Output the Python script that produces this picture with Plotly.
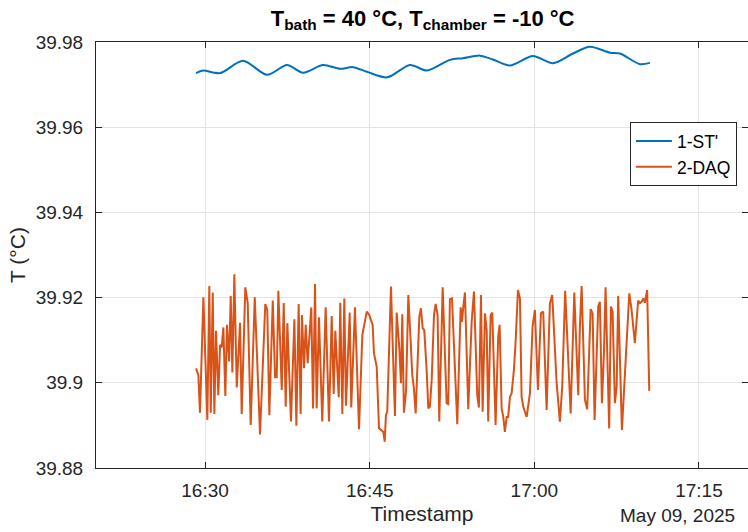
import pandas as pd
import plotly.graph_objects as go

# Minutes after 16:30 on 2025-05-09
st_min = [-0.82, -0.18, 1.37, 3.46, 5.65, 7.47, 8.93, 10.75, 12.30, 13.48, 14.75, 16.58,
          18.67, 20.22, 22.31, 23.50, 25.05, 26.23, 27.78, 29.87, 31.69, 33.52, 35.06,
          36.89, 37.80, 39.62, 40.53]
st_val = [39.9727, 39.9733, 39.9727, 39.9756, 39.9723, 39.9746, 39.9728, 39.9746, 39.9737,
          39.9741, 39.9730, 39.9717, 39.9746, 39.9733, 39.9758, 39.9762, 39.9768, 39.9759,
          39.9745, 39.9767, 39.9750, 39.9773, 39.9789, 39.9775, 39.9773, 39.9748, 39.9751]

daq_min = [-0.82, -0.61, -0.46, -0.15, 0.21, 0.39, 0.52, 0.70, 0.85, 1.00, 1.21, 1.37, 1.52,
           1.67, 1.85, 2.00, 2.19, 2.34, 2.49, 2.67, 2.89, 3.19, 3.34, 3.67, 3.89, 4.16, 4.53,
           5.01, 5.49, 5.67, 5.86, 6.17, 6.38, 6.53, 6.68, 6.99, 7.17, 7.35, 7.50, 7.83, 8.14,
           8.32, 8.53, 8.71, 8.83, 9.02, 9.17, 9.35, 9.68, 9.84, 10.02, 10.17, 10.38, 10.68,
           10.99, 11.29, 11.54, 11.72, 11.87, 12.18, 12.32, 12.51, 12.69, 12.84, 13.18, 13.32,
           13.66, 14.03, 14.33, 14.73, 14.97, 15.27, 15.39, 15.64, 15.85, 16.09, 16.24, 16.37,
           16.48, 16.60, 16.76, 16.94, 17.30, 17.46, 17.70, 17.85, 17.97, 18.12, 18.31, 18.52,
           18.73, 18.88, 19.03, 19.19, 19.52, 19.67, 19.83, 19.97, 20.19, 20.34, 20.49, 20.65,
           20.86, 21.01, 21.19, 21.34, 21.65, 22.01, 22.16, 22.31, 22.50, 22.98, 23.29, 23.41,
           23.53, 23.68, 23.98, 24.29, 24.50, 24.80, 24.95, 25.14, 25.29, 25.50, 25.66, 25.80,
           26.02, 26.17, 26.47, 26.71, 26.84, 27.02, 27.17, 27.32, 27.48, 27.62, 27.78, 27.93,
           28.14, 28.29, 28.51, 28.69, 28.84, 28.99, 29.14, 29.30, 29.60, 29.84, 30.05, 30.33,
           30.60, 30.81, 31.12, 31.42, 31.63, 32.03, 32.33, 32.54, 32.81, 33.03, 33.31, 33.64,
           34.00, 34.15, 34.31, 34.61, 34.82, 35.13, 35.31, 35.49, 35.82, 35.97, 36.16, 36.34,
           36.49, 36.82, 36.98, 37.13, 37.34, 37.50, 37.64, 37.98, 38.34, 38.65, 38.86, 39.16,
           39.46, 39.62, 39.77, 39.92, 40.07, 40.28, 40.47]
daq_val = [39.9034, 39.9018, 39.8930, 39.9201, 39.8913, 39.9227, 39.8930, 39.9212, 39.8927,
           39.9122, 39.8971, 39.9089, 39.9083, 39.9130, 39.8969, 39.9136, 39.9050, 39.9204,
           39.9024, 39.9255, 39.8989, 39.9141, 39.8927, 39.9224, 39.9187, 39.8901, 39.9201,
           39.8879, 39.9185, 39.9171, 39.8924, 39.9193, 39.9013, 39.9013, 39.9216, 39.8983,
           39.9187, 39.8944, 39.9140, 39.8909, 39.9149, 39.8899, 39.9185, 39.8927, 39.9159,
           39.9034, 39.9136, 39.9046, 39.9177, 39.8940, 39.9232, 39.8940, 39.9154, 39.8909,
           39.9177, 39.8909, 39.9157, 39.8974, 39.9122, 39.8966, 39.9188, 39.8927, 39.9198,
           39.8946, 39.9165, 39.8942, 39.9177, 39.8891, 39.9112, 39.9167, 39.9159, 39.9136,
           39.9069, 39.9038, 39.8893, 39.8889, 39.8885, 39.8862, 39.8924, 39.8932, 39.9054,
           39.9226, 39.8922, 39.9165, 39.9081, 39.8999, 39.9161, 39.8930, 39.8979, 39.9206,
           39.9100, 39.9018, 39.8987, 39.8928, 39.9154, 39.9175, 39.9128, 39.9124, 39.9030,
           39.8940, 39.8944, 39.9007, 39.9159, 39.9185, 39.9159, 39.8909, 39.9224, 39.8952,
           39.8950, 39.9196, 39.9198, 39.8903, 39.9177, 39.9143, 39.9179, 39.9212, 39.8938,
           39.9143, 39.9214, 39.8971, 39.8942, 39.9206, 39.8932, 39.9163, 39.9124, 39.8909,
           39.9159, 39.9165, 39.8901, 39.9108, 39.9136, 39.8940, 39.8920, 39.8885, 39.8920,
           39.8920, 39.8967, 39.8975, 39.9030, 39.9093, 39.9218, 39.9198, 39.8967, 39.8944,
           39.8932, 39.8920, 39.8975, 39.9132, 39.9171, 39.8983, 39.9163, 39.9167, 39.8936,
           39.9187, 39.9206, 39.9000, 39.8909, 39.8991, 39.9216, 39.9085, 39.8928, 39.9212,
           39.8971, 39.9132, 39.9227, 39.8960, 39.8938, 39.9173, 39.9163, 39.8913, 39.9179,
           39.9190, 39.8952, 39.9069, 39.9224, 39.8893, 39.9179, 39.9167, 39.8952, 39.8991,
           39.9204, 39.8889, 39.9054, 39.9210, 39.9171, 39.9093, 39.9193, 39.9187, 39.9190,
           39.9198, 39.9188, 39.9218, 39.8981]

y_ticks = [39.88, 39.90, 39.92, 39.94, 39.96, 39.98]
y_tick_text = ["39.88", "39.9", "39.92", "39.94", "39.96", "39.98"]
x_ticks = ["2025-05-09 16:30:00", "2025-05-09 16:45:00", "2025-05-09 17:00:00", "2025-05-09 17:15:00"]
x_range = ["2025-05-09 16:20:04", "2025-05-09 17:19:28"]

base = pd.Timestamp("2025-05-09 16:30:00")
st_t = base + pd.to_timedelta(st_min, unit="min")
daq_t = base + pd.to_timedelta(daq_min, unit="min")

FONT = "Liberation Sans, Arial, Helvetica, sans-serif"
DARK = "#262626"
GRID = "#e3e3e3"

fig = go.Figure()
fig.add_trace(go.Scatter(x=st_t, y=st_val, mode="lines", name="1-ST'",
                         line=dict(color="#0072BD", width=2, shape="spline", smoothing=0.8)))
fig.add_trace(go.Scatter(x=daq_t, y=daq_val, mode="lines", name="2-DAQ",
                         line=dict(color="#D95319", width=2)))

fig.update_layout(
    width=748, height=532,
    margin=dict(l=96, r=0, t=42, b=64),
    paper_bgcolor="white", plot_bgcolor="white",
    font=dict(family=FONT, color=DARK, size=19),
    title=dict(text="<b>T<sub>bath</sub> = 40 °C, T<sub>chamber</sub> = -10 °C</b>",
               x=0.565, xanchor="center", y=1 - 18 / 532, yanchor="middle", yref="container",
               font=dict(size=22, color="black", family=FONT)),
    showlegend=True,
    legend=dict(x=0.983, xanchor="right", y=0.812, yanchor="top",
                bgcolor="white", bordercolor=DARK, borderwidth=1, itemwidth=36,
                font=dict(size=17.5, color="black"), tracegroupgap=0),
)
fig.update_xaxes(
    type="date", range=x_range, tickvals=x_ticks, tickformat="%H:%M",
    showgrid=True, gridcolor=GRID, gridwidth=1,
    showline=True, linecolor=DARK, linewidth=1, mirror="ticks",
    ticks="inside", ticklen=6, tickcolor=DARK, ticklabelstandoff=5,
    title=dict(text="Timestamp", font=dict(size=21), standoff=6),
    zeroline=False,
)
fig.update_yaxes(
    range=[39.88, 39.98], tickvals=y_ticks, ticktext=y_tick_text,
    showgrid=True, gridcolor=GRID, gridwidth=1,
    showline=True, linecolor=DARK, linewidth=1, mirror="ticks",
    ticks="inside", ticklen=6, tickcolor=DARK, ticklabelstandoff=8,
    title=dict(text="T (°C)", font=dict(size=21), standoff=4),
    zeroline=False,
)
fig.add_annotation(text="May 09, 2025", xref="paper", yref="paper",
                   x=(737 - 96) / 652, y=-(515 - 468) / 426, xanchor="right", yanchor="middle",
                   showarrow=False, font=dict(size=19, color=DARK))

fig.write_html("out.html")
